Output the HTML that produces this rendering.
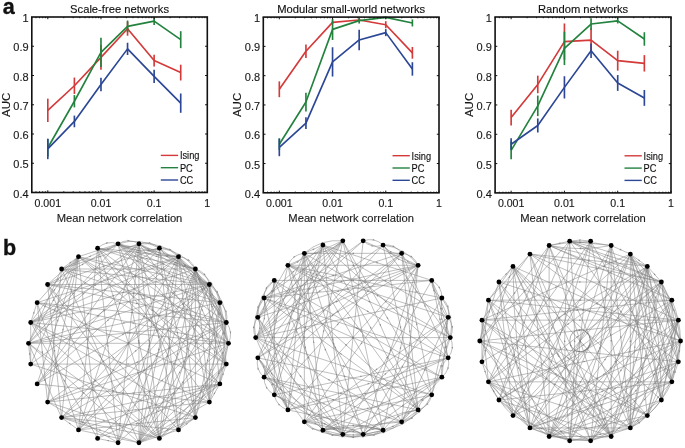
<!DOCTYPE html>
<html><head><meta charset="utf-8"><style>
html,body{margin:0;padding:0;background:#fff;width:685px;height:448px;overflow:hidden}
svg{display:block}
text{-webkit-font-smoothing:antialiased}
</style></head><body>
<svg style="will-change:transform" width="685" height="448" viewBox="0 0 685 448">
<rect width="685" height="448" fill="#fff"/>
<text x="119.55" y="13.0" font-size="11.2" text-anchor="middle" font-family="Liberation Sans, sans-serif" stroke="currentColor" stroke-width="0.12" fill="#111">Scale-free networks</text>
<polyline points="47.8,110.31 74.39,85.74 100.97,57.37 127.55,28.7 154.13,60.58 180.72,72.57" fill="none" stroke="#d43a3a" stroke-width="1.65" stroke-linejoin="round"/>
<line x1="47.8" y1="98.61" x2="47.8" y2="122.01" stroke="#d43a3a" stroke-width="1.65"/>
<line x1="74.39" y1="77.55" x2="74.39" y2="93.93" stroke="#d43a3a" stroke-width="1.65"/>
<line x1="100.97" y1="45.08" x2="100.97" y2="69.65" stroke="#d43a3a" stroke-width="1.65"/>
<line x1="127.55" y1="21.68" x2="127.55" y2="35.72" stroke="#d43a3a" stroke-width="1.65"/>
<line x1="154.13" y1="54.73" x2="154.13" y2="66.43" stroke="#d43a3a" stroke-width="1.65"/>
<line x1="180.72" y1="64.68" x2="180.72" y2="80.47" stroke="#d43a3a" stroke-width="1.65"/>
<polyline points="47.8,147.75 74.39,101.24 100.97,52.39 127.55,26.36 154.13,21.09 180.72,39.67" fill="none" stroke="#22823e" stroke-width="1.65" stroke-linejoin="round"/>
<line x1="47.8" y1="138.97" x2="47.8" y2="156.52" stroke="#22823e" stroke-width="1.65"/>
<line x1="74.39" y1="95.1" x2="74.39" y2="107.38" stroke="#22823e" stroke-width="1.65"/>
<line x1="100.97" y1="37.77" x2="100.97" y2="67.02" stroke="#22823e" stroke-width="1.65"/>
<line x1="127.55" y1="20.51" x2="127.55" y2="32.21" stroke="#22823e" stroke-width="1.65"/>
<line x1="154.13" y1="17.29" x2="154.13" y2="24.9" stroke="#22823e" stroke-width="1.65"/>
<line x1="180.72" y1="31.19" x2="180.72" y2="48.15" stroke="#22823e" stroke-width="1.65"/>
<polyline points="47.8,148.92 74.39,121.42 100.97,84.42 127.55,48.88 154.13,76.38 180.72,103.14" fill="none" stroke="#2c4795" stroke-width="1.65" stroke-linejoin="round"/>
<line x1="47.8" y1="138.68" x2="47.8" y2="159.16" stroke="#2c4795" stroke-width="1.65"/>
<line x1="74.39" y1="115.57" x2="74.39" y2="127.27" stroke="#2c4795" stroke-width="1.65"/>
<line x1="100.97" y1="77.69" x2="100.97" y2="91.15" stroke="#2c4795" stroke-width="1.65"/>
<line x1="127.55" y1="42.74" x2="127.55" y2="55.03" stroke="#2c4795" stroke-width="1.65"/>
<line x1="154.13" y1="69.65" x2="154.13" y2="83.1" stroke="#2c4795" stroke-width="1.65"/>
<line x1="180.72" y1="93.49" x2="180.72" y2="112.79" stroke="#2c4795" stroke-width="1.65"/>
<path d="M31.8,163.25h2.2M207.3,163.25h-2.2M31.8,134h2.2M207.3,134h-2.2M31.8,104.75h2.2M207.3,104.75h-2.2M31.8,75.5h2.2M207.3,75.5h-2.2M31.8,46.25h2.2M207.3,46.25h-2.2M31.8,192.5v-1.2M31.8,17v1.2M36.01,192.5v-1.2M36.01,17v1.2M39.57,192.5v-1.2M39.57,17v1.2M42.65,192.5v-1.2M42.65,17v1.2M45.37,192.5v-1.2M45.37,17v1.2M47.8,192.5v-2.2M47.8,17v2.2M63.81,192.5v-1.2M63.81,17v1.2M73.17,192.5v-1.2M73.17,17v1.2M79.81,192.5v-1.2M79.81,17v1.2M84.97,192.5v-1.2M84.97,17v1.2M89.17,192.5v-1.2M89.17,17v1.2M92.73,192.5v-1.2M92.73,17v1.2M95.82,192.5v-1.2M95.82,17v1.2M98.54,192.5v-1.2M98.54,17v1.2M100.97,192.5v-2.2M100.97,17v2.2M116.97,192.5v-1.2M116.97,17v1.2M126.34,192.5v-1.2M126.34,17v1.2M132.98,192.5v-1.2M132.98,17v1.2M138.13,192.5v-1.2M138.13,17v1.2M142.34,192.5v-1.2M142.34,17v1.2M145.9,192.5v-1.2M145.9,17v1.2M148.98,192.5v-1.2M148.98,17v1.2M151.7,192.5v-1.2M151.7,17v1.2M154.13,192.5v-2.2M154.13,17v2.2M170.14,192.5v-1.2M170.14,17v1.2M179.5,192.5v-1.2M179.5,17v1.2M186.14,192.5v-1.2M186.14,17v1.2M191.3,192.5v-1.2M191.3,17v1.2M195.51,192.5v-1.2M195.51,17v1.2M199.06,192.5v-1.2M199.06,17v1.2M202.15,192.5v-1.2M202.15,17v1.2M204.87,192.5v-1.2M204.87,17v1.2M207.3,192.5v-2.2M207.3,17v2.2" stroke="#111" stroke-width="1" fill="none"/>
<rect x="31.8" y="17" width="175.5" height="175.5" fill="none" stroke="#111" stroke-width="1.6"/>
<text x="28.6" y="197.6" font-size="11" text-anchor="end" font-family="Liberation Sans, sans-serif" stroke="currentColor" stroke-width="0.12" fill="#222">0.4</text>
<text x="28.6" y="168.35" font-size="11" text-anchor="end" font-family="Liberation Sans, sans-serif" stroke="currentColor" stroke-width="0.12" fill="#222">0.5</text>
<text x="28.6" y="139.1" font-size="11" text-anchor="end" font-family="Liberation Sans, sans-serif" stroke="currentColor" stroke-width="0.12" fill="#222">0.6</text>
<text x="28.6" y="109.85" font-size="11" text-anchor="end" font-family="Liberation Sans, sans-serif" stroke="currentColor" stroke-width="0.12" fill="#222">0.7</text>
<text x="28.6" y="80.6" font-size="11" text-anchor="end" font-family="Liberation Sans, sans-serif" stroke="currentColor" stroke-width="0.12" fill="#222">0.8</text>
<text x="28.6" y="51.35" font-size="11" text-anchor="end" font-family="Liberation Sans, sans-serif" stroke="currentColor" stroke-width="0.12" fill="#222">0.9</text>
<text x="28.6" y="22.1" font-size="11" text-anchor="end" font-family="Liberation Sans, sans-serif" stroke="currentColor" stroke-width="0.12" fill="#222">1</text>
<text x="47.8" y="206.9" font-size="10.6" text-anchor="middle" font-family="Liberation Sans, sans-serif" stroke="currentColor" stroke-width="0.12" fill="#222">0.001</text>
<text x="100.97" y="206.9" font-size="10.6" text-anchor="middle" font-family="Liberation Sans, sans-serif" stroke="currentColor" stroke-width="0.12" fill="#222">0.01</text>
<text x="154.13" y="206.9" font-size="10.6" text-anchor="middle" font-family="Liberation Sans, sans-serif" stroke="currentColor" stroke-width="0.12" fill="#222">0.1</text>
<text x="207.3" y="206.9" font-size="10.6" text-anchor="middle" font-family="Liberation Sans, sans-serif" stroke="currentColor" stroke-width="0.12" fill="#222">1</text>
<text x="119.55" y="222.0" font-size="11.2" text-anchor="middle" font-family="Liberation Sans, sans-serif" stroke="currentColor" stroke-width="0.12" fill="#222">Mean network correlation</text>
<text transform="translate(9.8,104.75) rotate(-90)" font-size="11.5" text-anchor="middle" font-family="Liberation Sans, sans-serif" stroke="currentColor" stroke-width="0.12" fill="#222">AUC</text>
<line x1="160.8" y1="155.4" x2="178.1" y2="155.4" stroke="#d43a3a" stroke-width="1.4"/>
<text transform="translate(179.9,159.3) scale(0.9,1)" font-size="10.3" font-family="Liberation Sans, sans-serif" stroke="currentColor" stroke-width="0.12" fill="#111">Ising</text>
<line x1="160.8" y1="167.7" x2="178.1" y2="167.7" stroke="#22823e" stroke-width="1.4"/>
<text transform="translate(179.9,171.6) scale(0.9,1)" font-size="10.3" font-family="Liberation Sans, sans-serif" stroke="currentColor" stroke-width="0.12" fill="#111">PC</text>
<line x1="160.8" y1="180" x2="178.1" y2="180" stroke="#2c4795" stroke-width="1.4"/>
<text transform="translate(179.9,183.9) scale(0.9,1)" font-size="10.3" font-family="Liberation Sans, sans-serif" stroke="currentColor" stroke-width="0.12" fill="#111">CC</text>
<text x="351.15" y="13.0" font-size="11.2" text-anchor="middle" font-family="Liberation Sans, sans-serif" stroke="currentColor" stroke-width="0.12" fill="#111">Modular small-world networks</text>
<polyline points="279.32,89.28 305.94,51.19 332.55,22.37 359.16,20.03 385.77,24.71 412.39,52.83" fill="none" stroke="#d43a3a" stroke-width="1.65" stroke-linejoin="round"/>
<line x1="279.32" y1="81.38" x2="279.32" y2="97.19" stroke="#d43a3a" stroke-width="1.65"/>
<line x1="305.94" y1="44.45" x2="305.94" y2="57.92" stroke="#d43a3a" stroke-width="1.65"/>
<line x1="332.55" y1="20.61" x2="332.55" y2="24.13" stroke="#d43a3a" stroke-width="1.65"/>
<line x1="359.16" y1="18.56" x2="359.16" y2="21.49" stroke="#d43a3a" stroke-width="1.65"/>
<line x1="385.77" y1="21.2" x2="385.77" y2="28.23" stroke="#d43a3a" stroke-width="1.65"/>
<line x1="412.39" y1="46.97" x2="412.39" y2="58.68" stroke="#d43a3a" stroke-width="1.65"/>
<polyline points="279.32,144.19 305.94,102.02 332.55,29.4 359.16,20.61 385.77,17.39 412.39,22.96" fill="none" stroke="#22823e" stroke-width="1.65" stroke-linejoin="round"/>
<line x1="279.32" y1="138.33" x2="279.32" y2="150.05" stroke="#22823e" stroke-width="1.65"/>
<line x1="305.94" y1="92.65" x2="305.94" y2="111.39" stroke="#22823e" stroke-width="1.65"/>
<line x1="332.55" y1="18.86" x2="332.55" y2="39.94" stroke="#22823e" stroke-width="1.65"/>
<line x1="359.16" y1="17.69" x2="359.16" y2="23.54" stroke="#22823e" stroke-width="1.65"/>
<line x1="385.77" y1="17.1" x2="385.77" y2="18.86" stroke="#22823e" stroke-width="1.65"/>
<line x1="412.39" y1="19.44" x2="412.39" y2="26.47" stroke="#22823e" stroke-width="1.65"/>
<polyline points="279.32,147.41 305.94,123.11 332.55,61.9 359.16,39.94 385.77,32.62 412.39,68.93" fill="none" stroke="#2c4795" stroke-width="1.65" stroke-linejoin="round"/>
<line x1="279.32" y1="138.63" x2="279.32" y2="156.2" stroke="#2c4795" stroke-width="1.65"/>
<line x1="305.94" y1="117.25" x2="305.94" y2="128.96" stroke="#2c4795" stroke-width="1.65"/>
<line x1="332.55" y1="47.26" x2="332.55" y2="76.55" stroke="#2c4795" stroke-width="1.65"/>
<line x1="359.16" y1="29.69" x2="359.16" y2="50.19" stroke="#2c4795" stroke-width="1.65"/>
<line x1="385.77" y1="29.11" x2="385.77" y2="36.13" stroke="#2c4795" stroke-width="1.65"/>
<line x1="412.39" y1="62.2" x2="412.39" y2="75.67" stroke="#2c4795" stroke-width="1.65"/>
<path d="M263.3,163.52h2.2M439,163.52h-2.2M263.3,134.23h2.2M439,134.23h-2.2M263.3,104.95h2.2M439,104.95h-2.2M263.3,75.67h2.2M439,75.67h-2.2M263.3,46.38h2.2M439,46.38h-2.2M263.3,192.8v-1.2M263.3,17.1v1.2M267.51,192.8v-1.2M267.51,17.1v1.2M271.08,192.8v-1.2M271.08,17.1v1.2M274.16,192.8v-1.2M274.16,17.1v1.2M276.89,192.8v-1.2M276.89,17.1v1.2M279.32,192.8v-2.2M279.32,17.1v2.2M295.35,192.8v-1.2M295.35,17.1v1.2M304.72,192.8v-1.2M304.72,17.1v1.2M311.37,192.8v-1.2M311.37,17.1v1.2M316.53,192.8v-1.2M316.53,17.1v1.2M320.74,192.8v-1.2M320.74,17.1v1.2M324.3,192.8v-1.2M324.3,17.1v1.2M327.39,192.8v-1.2M327.39,17.1v1.2M330.11,192.8v-1.2M330.11,17.1v1.2M332.55,192.8v-2.2M332.55,17.1v2.2M348.57,192.8v-1.2M348.57,17.1v1.2M357.94,192.8v-1.2M357.94,17.1v1.2M364.59,192.8v-1.2M364.59,17.1v1.2M369.75,192.8v-1.2M369.75,17.1v1.2M373.97,192.8v-1.2M373.97,17.1v1.2M377.53,192.8v-1.2M377.53,17.1v1.2M380.62,192.8v-1.2M380.62,17.1v1.2M383.34,192.8v-1.2M383.34,17.1v1.2M385.77,192.8v-2.2M385.77,17.1v2.2M401.8,192.8v-1.2M401.8,17.1v1.2M411.17,192.8v-1.2M411.17,17.1v1.2M417.82,192.8v-1.2M417.82,17.1v1.2M422.98,192.8v-1.2M422.98,17.1v1.2M427.19,192.8v-1.2M427.19,17.1v1.2M430.76,192.8v-1.2M430.76,17.1v1.2M433.84,192.8v-1.2M433.84,17.1v1.2M436.56,192.8v-1.2M436.56,17.1v1.2M439,192.8v-2.2M439,17.1v2.2" stroke="#111" stroke-width="1" fill="none"/>
<rect x="263.3" y="17.1" width="175.7" height="175.7" fill="none" stroke="#111" stroke-width="1.6"/>
<text x="260.1" y="197.9" font-size="11" text-anchor="end" font-family="Liberation Sans, sans-serif" stroke="currentColor" stroke-width="0.12" fill="#222">0.4</text>
<text x="260.1" y="168.62" font-size="11" text-anchor="end" font-family="Liberation Sans, sans-serif" stroke="currentColor" stroke-width="0.12" fill="#222">0.5</text>
<text x="260.1" y="139.33" font-size="11" text-anchor="end" font-family="Liberation Sans, sans-serif" stroke="currentColor" stroke-width="0.12" fill="#222">0.6</text>
<text x="260.1" y="110.05" font-size="11" text-anchor="end" font-family="Liberation Sans, sans-serif" stroke="currentColor" stroke-width="0.12" fill="#222">0.7</text>
<text x="260.1" y="80.77" font-size="11" text-anchor="end" font-family="Liberation Sans, sans-serif" stroke="currentColor" stroke-width="0.12" fill="#222">0.8</text>
<text x="260.1" y="51.48" font-size="11" text-anchor="end" font-family="Liberation Sans, sans-serif" stroke="currentColor" stroke-width="0.12" fill="#222">0.9</text>
<text x="260.1" y="22.2" font-size="11" text-anchor="end" font-family="Liberation Sans, sans-serif" stroke="currentColor" stroke-width="0.12" fill="#222">1</text>
<text x="279.32" y="207.2" font-size="10.6" text-anchor="middle" font-family="Liberation Sans, sans-serif" stroke="currentColor" stroke-width="0.12" fill="#222">0.001</text>
<text x="332.55" y="207.2" font-size="10.6" text-anchor="middle" font-family="Liberation Sans, sans-serif" stroke="currentColor" stroke-width="0.12" fill="#222">0.01</text>
<text x="385.77" y="207.2" font-size="10.6" text-anchor="middle" font-family="Liberation Sans, sans-serif" stroke="currentColor" stroke-width="0.12" fill="#222">0.1</text>
<text x="439" y="207.2" font-size="10.6" text-anchor="middle" font-family="Liberation Sans, sans-serif" stroke="currentColor" stroke-width="0.12" fill="#222">1</text>
<text x="351.15" y="222.0" font-size="11.2" text-anchor="middle" font-family="Liberation Sans, sans-serif" stroke="currentColor" stroke-width="0.12" fill="#222">Mean network correlation</text>
<text transform="translate(241.3,104.95) rotate(-90)" font-size="11.5" text-anchor="middle" font-family="Liberation Sans, sans-serif" stroke="currentColor" stroke-width="0.12" fill="#222">AUC</text>
<line x1="392.5" y1="155.7" x2="409.8" y2="155.7" stroke="#d43a3a" stroke-width="1.4"/>
<text transform="translate(411.6,159.6) scale(0.9,1)" font-size="10.3" font-family="Liberation Sans, sans-serif" stroke="currentColor" stroke-width="0.12" fill="#111">Ising</text>
<line x1="392.5" y1="168" x2="409.8" y2="168" stroke="#22823e" stroke-width="1.4"/>
<text transform="translate(411.6,171.9) scale(0.9,1)" font-size="10.3" font-family="Liberation Sans, sans-serif" stroke="currentColor" stroke-width="0.12" fill="#111">PC</text>
<line x1="392.5" y1="180.3" x2="409.8" y2="180.3" stroke="#2c4795" stroke-width="1.4"/>
<text transform="translate(411.6,184.2) scale(0.9,1)" font-size="10.3" font-family="Liberation Sans, sans-serif" stroke="currentColor" stroke-width="0.12" fill="#111">CC</text>
<text x="583.05" y="13.0" font-size="11.2" text-anchor="middle" font-family="Liberation Sans, sans-serif" stroke="currentColor" stroke-width="0.12" fill="#111">Random networks</text>
<polyline points="511.14,117.56 537.78,84.43 564.43,41.63 591.07,40.16 617.71,60.68 644.36,63.32" fill="none" stroke="#d43a3a" stroke-width="1.65" stroke-linejoin="round"/>
<line x1="511.14" y1="109.64" x2="511.14" y2="125.47" stroke="#d43a3a" stroke-width="1.65"/>
<line x1="537.78" y1="75.63" x2="537.78" y2="93.22" stroke="#d43a3a" stroke-width="1.65"/>
<line x1="564.43" y1="23.45" x2="564.43" y2="59.8" stroke="#d43a3a" stroke-width="1.65"/>
<line x1="591.07" y1="28.43" x2="591.07" y2="51.89" stroke="#d43a3a" stroke-width="1.65"/>
<line x1="617.71" y1="50.71" x2="617.71" y2="70.65" stroke="#d43a3a" stroke-width="1.65"/>
<line x1="644.36" y1="55.11" x2="644.36" y2="71.53" stroke="#d43a3a" stroke-width="1.65"/>
<polyline points="511.14,150.39 537.78,105.83 564.43,48.37 591.07,24.04 617.71,20.81 644.36,38.99" fill="none" stroke="#22823e" stroke-width="1.65" stroke-linejoin="round"/>
<line x1="511.14" y1="141.6" x2="511.14" y2="159.19" stroke="#22823e" stroke-width="1.65"/>
<line x1="537.78" y1="95.57" x2="537.78" y2="116.09" stroke="#22823e" stroke-width="1.65"/>
<line x1="564.43" y1="31.66" x2="564.43" y2="65.08" stroke="#22823e" stroke-width="1.65"/>
<line x1="591.07" y1="18.17" x2="591.07" y2="29.9" stroke="#22823e" stroke-width="1.65"/>
<line x1="617.71" y1="18.17" x2="617.71" y2="23.45" stroke="#22823e" stroke-width="1.65"/>
<line x1="644.36" y1="32.24" x2="644.36" y2="45.73" stroke="#22823e" stroke-width="1.65"/>
<polyline points="511.14,144.23 537.78,125.47 564.43,87.36 591.07,50.71 617.71,82.96 644.36,97.91" fill="none" stroke="#2c4795" stroke-width="1.65" stroke-linejoin="round"/>
<line x1="511.14" y1="138.37" x2="511.14" y2="150.1" stroke="#2c4795" stroke-width="1.65"/>
<line x1="537.78" y1="118.44" x2="537.78" y2="132.51" stroke="#2c4795" stroke-width="1.65"/>
<line x1="564.43" y1="76.22" x2="564.43" y2="98.5" stroke="#2c4795" stroke-width="1.65"/>
<line x1="591.07" y1="43.38" x2="591.07" y2="58.04" stroke="#2c4795" stroke-width="1.65"/>
<line x1="617.71" y1="75.05" x2="617.71" y2="90.88" stroke="#2c4795" stroke-width="1.65"/>
<line x1="644.36" y1="90" x2="644.36" y2="105.83" stroke="#2c4795" stroke-width="1.65"/>
<path d="M495.1,163.58h2.2M671,163.58h-2.2M495.1,134.27h2.2M671,134.27h-2.2M495.1,104.95h2.2M671,104.95h-2.2M495.1,75.63h2.2M671,75.63h-2.2M495.1,46.32h2.2M671,46.32h-2.2M495.1,192.9v-1.2M495.1,17v1.2M499.32,192.9v-1.2M499.32,17v1.2M502.89,192.9v-1.2M502.89,17v1.2M505.98,192.9v-1.2M505.98,17v1.2M508.7,192.9v-1.2M508.7,17v1.2M511.14,192.9v-2.2M511.14,17v2.2M527.18,192.9v-1.2M527.18,17v1.2M536.56,192.9v-1.2M536.56,17v1.2M543.22,192.9v-1.2M543.22,17v1.2M548.39,192.9v-1.2M548.39,17v1.2M552.61,192.9v-1.2M552.61,17v1.2M556.17,192.9v-1.2M556.17,17v1.2M559.26,192.9v-1.2M559.26,17v1.2M561.99,192.9v-1.2M561.99,17v1.2M564.43,192.9v-2.2M564.43,17v2.2M580.47,192.9v-1.2M580.47,17v1.2M589.85,192.9v-1.2M589.85,17v1.2M596.51,192.9v-1.2M596.51,17v1.2M601.67,192.9v-1.2M601.67,17v1.2M605.89,192.9v-1.2M605.89,17v1.2M609.46,192.9v-1.2M609.46,17v1.2M612.55,192.9v-1.2M612.55,17v1.2M615.28,192.9v-1.2M615.28,17v1.2M617.71,192.9v-2.2M617.71,17v2.2M633.75,192.9v-1.2M633.75,17v1.2M643.14,192.9v-1.2M643.14,17v1.2M649.8,192.9v-1.2M649.8,17v1.2M654.96,192.9v-1.2M654.96,17v1.2M659.18,192.9v-1.2M659.18,17v1.2M662.75,192.9v-1.2M662.75,17v1.2M665.84,192.9v-1.2M665.84,17v1.2M668.56,192.9v-1.2M668.56,17v1.2M671,192.9v-2.2M671,17v2.2" stroke="#111" stroke-width="1" fill="none"/>
<rect x="495.1" y="17" width="175.9" height="175.9" fill="none" stroke="#111" stroke-width="1.6"/>
<text x="491.9" y="198" font-size="11" text-anchor="end" font-family="Liberation Sans, sans-serif" stroke="currentColor" stroke-width="0.12" fill="#222">0.4</text>
<text x="491.9" y="168.68" font-size="11" text-anchor="end" font-family="Liberation Sans, sans-serif" stroke="currentColor" stroke-width="0.12" fill="#222">0.5</text>
<text x="491.9" y="139.37" font-size="11" text-anchor="end" font-family="Liberation Sans, sans-serif" stroke="currentColor" stroke-width="0.12" fill="#222">0.6</text>
<text x="491.9" y="110.05" font-size="11" text-anchor="end" font-family="Liberation Sans, sans-serif" stroke="currentColor" stroke-width="0.12" fill="#222">0.7</text>
<text x="491.9" y="80.73" font-size="11" text-anchor="end" font-family="Liberation Sans, sans-serif" stroke="currentColor" stroke-width="0.12" fill="#222">0.8</text>
<text x="491.9" y="51.42" font-size="11" text-anchor="end" font-family="Liberation Sans, sans-serif" stroke="currentColor" stroke-width="0.12" fill="#222">0.9</text>
<text x="491.9" y="22.1" font-size="11" text-anchor="end" font-family="Liberation Sans, sans-serif" stroke="currentColor" stroke-width="0.12" fill="#222">1</text>
<text x="511.14" y="207.3" font-size="10.6" text-anchor="middle" font-family="Liberation Sans, sans-serif" stroke="currentColor" stroke-width="0.12" fill="#222">0.001</text>
<text x="564.43" y="207.3" font-size="10.6" text-anchor="middle" font-family="Liberation Sans, sans-serif" stroke="currentColor" stroke-width="0.12" fill="#222">0.01</text>
<text x="617.71" y="207.3" font-size="10.6" text-anchor="middle" font-family="Liberation Sans, sans-serif" stroke="currentColor" stroke-width="0.12" fill="#222">0.1</text>
<text x="671" y="207.3" font-size="10.6" text-anchor="middle" font-family="Liberation Sans, sans-serif" stroke="currentColor" stroke-width="0.12" fill="#222">1</text>
<text x="583.05" y="222.0" font-size="11.2" text-anchor="middle" font-family="Liberation Sans, sans-serif" stroke="currentColor" stroke-width="0.12" fill="#222">Mean network correlation</text>
<text transform="translate(473.1,104.95) rotate(-90)" font-size="11.5" text-anchor="middle" font-family="Liberation Sans, sans-serif" stroke="currentColor" stroke-width="0.12" fill="#222">AUC</text>
<line x1="624.5" y1="155.8" x2="641.8" y2="155.8" stroke="#d43a3a" stroke-width="1.4"/>
<text transform="translate(643.6,159.7) scale(0.9,1)" font-size="10.3" font-family="Liberation Sans, sans-serif" stroke="currentColor" stroke-width="0.12" fill="#111">Ising</text>
<line x1="624.5" y1="168.1" x2="641.8" y2="168.1" stroke="#22823e" stroke-width="1.4"/>
<text transform="translate(643.6,172) scale(0.9,1)" font-size="10.3" font-family="Liberation Sans, sans-serif" stroke="currentColor" stroke-width="0.12" fill="#111">PC</text>
<line x1="624.5" y1="180.4" x2="641.8" y2="180.4" stroke="#2c4795" stroke-width="1.4"/>
<text transform="translate(643.6,184.3) scale(0.9,1)" font-size="10.3" font-family="Liberation Sans, sans-serif" stroke="currentColor" stroke-width="0.12" fill="#111">CC</text>
<text x="2.8" y="14.2" font-size="21.5" font-weight="bold" font-family="Liberation Sans, sans-serif" stroke="#111" stroke-width="0.35" fill="#111">a</text>
<text x="3.0" y="254.9" font-size="21.5" font-weight="bold" font-family="Liberation Sans, sans-serif" stroke="#111" stroke-width="0.35" fill="#111">b</text>
<path d="M209.4,284.52L47.6,402.08M97.6,248.19L159.4,438.41M37.15,302.63L219.85,383.97M228.5,343.3Q233.64,332.25 226.31,322.51M228.5,343.3Q221.17,333.56 226.31,322.51M226.31,322.51Q229.05,310.63 219.85,302.63M226.31,322.51Q217.12,314.51 219.85,302.63M219.85,302.63Q220.06,290.44 209.4,284.52M219.85,302.63Q209.2,296.71 209.4,284.52M209.4,284.52Q207.07,272.56 195.41,268.99M209.4,284.52Q197.75,280.95 195.41,268.99M195.41,268.99Q190.64,257.77 178.5,256.7M195.41,268.99Q183.27,267.92 178.5,256.7M178.5,256.7Q171.5,246.72 159.4,248.19M178.5,256.7Q166.4,258.18 159.4,248.19M159.4,248.19Q150.48,239.89 138.95,243.85M159.4,248.19Q147.87,252.16 138.95,243.85M138.95,243.85Q128.5,237.58 118.05,243.85M138.95,243.85Q128.5,250.12 118.05,243.85M118.05,243.85Q106.52,239.89 97.6,248.19M118.05,243.85Q109.13,252.16 97.6,248.19M226.31,322.51Q226.22,299.79 209.4,284.52M226.31,322.51Q209.5,307.24 209.4,284.52M219.85,302.63Q215.03,280.43 195.41,268.99M219.85,302.63Q200.23,291.18 195.41,268.99M195.41,268.99Q181.98,250.67 159.4,248.19M195.41,268.99Q172.83,266.51 159.4,248.19M178.5,256.7Q161.55,241.57 138.95,243.85M178.5,256.7Q155.9,258.97 138.95,243.85M159.4,248.19Q139.68,236.92 118.05,243.85M159.4,248.19Q137.77,255.12 118.05,243.85M209.4,284.52L78.5,256.7M28.5,343.3L138.95,442.75M219.85,302.63L178.5,256.7M226.31,322.51L138.95,442.75M47.6,402.08L228.5,343.3M226.31,364.09L219.85,383.97M30.69,364.09L30.69,322.51M209.4,284.52L228.5,343.3M61.59,268.99L226.31,322.51M228.5,343.3L97.6,248.19M118.05,243.85L159.4,438.41M78.5,256.7L28.5,343.3M78.5,256.7L30.69,364.09M118.05,243.85L178.5,256.7M159.4,438.41L61.59,417.61M178.5,256.7L226.31,322.51M118.05,442.75L138.95,243.85M159.4,438.41L138.95,243.85M219.85,383.97L159.4,438.41M209.4,402.08L97.6,248.19M226.31,364.09L138.95,243.85M226.31,322.51L28.5,343.3M118.05,442.75L195.41,268.99M219.85,383.97L97.6,438.41M138.95,442.75L209.4,284.52M47.6,284.52L118.05,243.85M209.4,284.52L78.5,429.9M219.85,302.63L28.5,343.3M219.85,302.63L118.05,243.85M226.31,364.09L138.95,442.75M178.5,256.7L195.41,417.61M209.4,284.52L138.95,243.85M159.4,438.41L28.5,343.3M219.85,302.63L226.31,364.09M118.05,442.75L178.5,256.7M226.31,322.51L37.15,302.63M195.41,268.99L30.69,322.51M219.85,383.97L97.6,248.19M47.6,284.52L178.5,429.9M209.4,402.08L138.95,442.75M78.5,429.9L219.85,383.97M209.4,284.52L219.85,383.97M195.41,417.61L30.69,322.51M228.5,343.3L219.85,383.97M195.41,268.99L61.59,417.61M195.41,268.99L138.95,442.75M37.15,302.63L178.5,256.7M209.4,284.52L61.59,417.61M226.31,322.51L195.41,268.99M47.6,284.52L159.4,438.41M30.69,322.51L178.5,256.7M209.4,402.08L209.4,284.52M228.5,343.3L195.41,268.99M118.05,243.85L226.31,322.51M209.4,284.52L159.4,248.19M47.6,284.52L219.85,302.63M159.4,248.19L195.41,417.61M226.31,364.09L30.69,364.09M47.6,402.08L37.15,302.63M219.85,302.63L228.5,343.3M228.5,343.3L209.4,402.08M47.6,402.08L219.85,383.97M228.5,343.3L28.5,343.3M97.6,248.19L78.5,429.9M178.5,256.7L226.31,364.09M226.31,322.51L47.6,284.52M78.5,429.9L195.41,417.61M78.5,429.9L61.59,417.61M159.4,248.19L37.15,383.97M195.41,417.61L178.5,429.9M138.95,243.85L138.95,442.75M30.69,322.51L138.95,243.85M37.15,302.63L30.69,322.51M226.31,364.09L178.5,429.9M78.5,429.9L138.95,243.85M78.5,429.9L37.15,302.63M226.31,322.51L97.6,438.41M228.5,343.3L30.69,322.51M97.6,248.19L195.41,268.99M47.6,402.08L78.5,256.7M30.69,322.51L209.4,402.08M178.5,256.7L37.15,383.97M195.41,417.61L30.69,364.09M118.05,243.85L195.41,417.61M178.5,256.7L30.69,364.09M209.4,284.52L118.05,243.85M178.5,429.9L138.95,243.85M219.85,302.63L78.5,256.7M61.59,417.61L219.85,383.97M178.5,256.7L209.4,284.52M118.05,243.85L195.41,268.99M195.41,268.99L138.95,243.85M30.69,322.51L78.5,256.7M178.5,256.7L159.4,438.41M226.31,364.09L118.05,243.85M178.5,429.9L228.5,343.3M61.59,417.61L47.6,284.52M178.5,256.7L138.95,442.75M118.05,243.85L228.5,343.3M159.4,438.41L195.41,268.99M28.5,343.3L118.05,243.85M28.5,343.3L30.69,364.09M138.95,442.75L219.85,383.97M37.15,383.97L209.4,284.52M97.6,248.19L209.4,284.52M47.6,402.08L61.59,268.99M30.69,322.51L97.6,438.41M195.41,417.61L226.31,322.51M209.4,402.08L61.59,417.61M159.4,248.19L47.6,284.52M178.5,429.9L138.95,442.75M28.5,343.3L209.4,284.52M61.59,417.61L138.95,442.75M28.5,343.3L61.59,417.61M195.41,268.99L195.41,417.61M61.59,268.99L138.95,442.75M178.5,256.7L209.4,402.08M178.5,429.9L159.4,248.19M47.6,284.52L118.05,442.75M159.4,248.19L138.95,442.75M78.5,256.7L61.59,417.61M159.4,438.41L47.6,402.08M219.85,383.97L78.5,256.7M219.85,383.97L226.31,322.51M195.41,268.99L61.59,268.99M178.5,256.7L78.5,429.9M28.5,343.3L61.59,268.99M159.4,438.41L195.41,417.61M209.4,284.52L159.4,438.41M226.31,364.09L61.59,268.99M47.6,284.52L209.4,284.52M61.59,268.99L78.5,256.7M226.31,364.09L78.5,256.7M47.6,284.52L78.5,256.7M47.6,402.08L226.31,322.51M61.59,268.99L138.95,243.85M219.85,383.97L209.4,402.08M138.95,442.75L195.41,417.61M97.6,248.19L178.5,256.7M209.4,284.52L30.69,322.51M209.4,402.08L219.85,302.63M118.05,442.75L228.5,343.3M159.4,248.19L30.69,322.51M219.85,302.63L78.5,429.9M61.59,268.99L118.05,243.85M61.59,268.99L209.4,284.52M159.4,438.41L30.69,322.51M178.5,429.9L195.41,268.99M78.5,429.9L138.95,442.75M195.41,268.99L226.31,364.09M195.41,417.61L219.85,302.63M138.95,442.75L219.85,302.63M138.95,243.85L37.15,383.97M37.15,383.97L209.4,402.08M78.5,256.7L97.6,438.41M78.5,256.7L37.15,383.97M159.4,438.41L226.31,364.09M97.6,248.19L118.05,442.75M78.5,256.7L118.05,243.85M37.15,302.63L228.5,343.3M78.5,256.7L228.5,343.3M61.59,417.61L178.5,429.9M28.5,343.3L138.95,243.85M37.15,302.63L78.5,256.7M195.41,268.99L209.4,402.08M97.6,438.41L118.05,442.75M47.6,402.08L118.05,442.75M61.59,417.61L226.31,322.51" stroke="#7e7e7e" stroke-opacity="0.85" stroke-width="0.6" fill="none"/>
<path d="M129.55,342.54L128.19,344.58L127.19,343.2ZM128.1,342.06L129.62,343.99L128,344.51ZM127.31,342.77L129.76,342.93L129.07,344.48ZM230.66,333.87L229.58,331.67L231.27,331.49ZM224.42,334.53L223.34,332.33L225.03,332.15ZM226.47,312.83L224.95,310.91L226.57,310.38ZM220.5,314.77L218.98,312.85L220.6,312.32ZM217.99,293.13L216.11,291.56L217.58,290.71ZM212.56,296.27L210.68,294.7L212.15,293.85ZM205.61,275.62L203.44,274.48L204.7,273.34ZM200.95,279.82L198.78,278.68L200.04,277.54ZM189.85,261.07L187.49,260.4L188.49,259.03ZM186.17,266.14L183.8,265.48L184.8,264.1ZM171.41,250.11L168.97,249.95L169.66,248.4ZM168.86,255.84L166.42,255.68L167.11,254.13ZM151.1,243.22L148.67,243.58L149.03,241.91ZM149.8,249.36L147.37,249.71L147.72,248.05ZM129.8,240.71L127.5,241.56L127.5,239.86ZM129.8,246.98L127.5,247.83L127.5,246.13ZM108.44,242.68L106.37,243.99L106.02,242.33ZM109.75,248.82L107.67,250.13L107.32,248.46ZM221.51,300.47L223.22,302.22L221.67,302.91ZM213.15,304.19L214.86,305.94L213.31,306.63ZM210.57,282.07L212.61,283.43L211.23,284.43ZM203.17,287.44L205.21,288.8L203.83,289.8ZM178.57,253.98L180.99,254.39L180.14,255.86ZM173.99,261.9L176.41,262.32L175.56,263.79ZM158.9,245.52L161.35,245.42L160.83,247.04ZM156.08,254.22L158.53,254.12L158,255.74ZM137.91,241.34L140.29,240.73L140.11,242.42ZM136.95,250.43L139.33,249.83L139.15,251.52ZM145.22,270.88L142.8,271.23L143.15,269.57ZM84.69,393.9L82.41,392.99L83.55,391.73ZM200.05,280.63L197.88,279.49L199.14,278.35ZM181.87,383.68L182.53,381.32L183.91,382.32ZM139.29,372.29L137.36,373.81L136.84,372.19ZM223.49,372.8L223.58,375.25L221.97,374.72ZM30.69,342L31.54,344.3L29.84,344.3ZM218.55,312.67L220.07,314.6L218.45,315.12ZM145.19,296.15L142.74,296.25L143.26,294.63ZM164.1,296.51L161.74,295.85L162.74,294.47ZM138.99,342.4L137.69,340.33L139.35,339.97ZM54.15,298.87L53.74,301.29L52.26,300.44ZM54.06,311.58L54.22,309.14L55.78,309.83ZM147,250L149.43,249.65L149.07,251.31ZM111.77,428.28L109.34,428.63L109.69,426.97ZM203.17,290.65L201.13,289.29L202.51,288.29ZM128.36,344.59L127.76,342.22L129.45,342.39ZM149.31,342.42L148.23,340.22L149.92,340.04ZM188.66,412.06L189.8,409.89L190.94,411.15ZM152.74,324.08L154.78,325.45L153.4,326.45ZM181.87,302.92L183.91,304.28L182.53,305.28ZM126.11,333.04L128.31,331.95L128.49,333.65ZM157.26,354.68L157.1,357.13L155.55,356.44ZM159.91,410.66L158.16,412.37L157.47,410.82ZM174.71,362.45L174.55,364.9L172.99,364.2ZM83.95,263.53L82.38,265.42L81.53,263.95ZM144.82,356.25L143.91,358.52L142.65,357.39ZM125.45,322.69L123.38,324L123.02,322.34ZM167.83,272.59L170.24,273L169.39,274.47ZM181.67,404.29L182.81,402.12L183.95,403.38ZM186.82,335.86L187.91,338.06L186.22,338.24ZM173.05,263.53L175.47,263.95L174.62,265.42ZM95,391.62L92.64,390.95L93.64,389.58ZM222.95,332.07L224.03,334.26L222.34,334.44ZM147.87,350.96L147.77,348.51L149.39,349.04ZM130.44,312.43L132.81,311.83L132.64,313.52ZM111.81,296.15L113.74,294.63L114.26,296.25ZM159.6,317.05L157.43,315.91L158.69,314.77ZM112.18,356.25L114.35,357.39L113.09,358.52ZM173.05,423.07L174.62,421.18L175.47,422.65ZM150.41,406.54L148.49,408.06L147.96,406.44ZM214.49,332.95L215.58,335.15L213.89,335.33ZM111.92,369.41L114.34,369.83L113.49,371.3ZM223.91,364.91L223.55,362.48L225.22,362.84ZM129.37,342.33L128.46,344.61L127.2,343.47ZM167.58,354.63L167.68,357.08L166.07,356.56ZM109.06,279.26L107.13,280.78L106.61,279.16ZM134.53,351.94L135.67,349.77L136.81,351.03ZM211.51,296.87L209.63,295.31L211.1,294.46ZM104.26,362.52L102.22,361.15L103.6,360.15ZM103.41,290.13L105.16,288.42L105.85,289.97ZM209.4,342L210.25,344.3L208.55,344.3ZM211.43,304.96L213.14,306.71L211.59,307.4ZM171.13,282.41L173.49,283.08L172.49,284.45ZM185.45,267.12L183.09,266.46L184.09,265.08ZM135.02,293.71L132.64,294.31L132.82,292.62ZM177.68,334.18L176.37,332.1L178.03,331.75ZM129.8,364.09L127.5,364.94L127.5,363.24ZM42.51,353.65L41.42,351.45L43.11,351.27ZM224.45,324.23L223.14,322.16L224.8,321.81ZM219.35,371.45L219.45,373.9L217.83,373.38ZM135.02,392.89L132.82,393.98L132.64,392.29ZM129.8,343.3L127.5,344.15L127.5,342.45ZM88.19,337.76L88.79,340.13L87.1,339.95ZM202.94,311.58L201.22,309.83L202.78,309.14ZM138.23,303.79L135.8,304.14L136.16,302.48ZM138.25,423.62L136.05,424.71L135.87,423.02ZM71.1,424.52L68.73,423.86L69.73,422.48ZM99.14,315.12L98.24,317.4L96.97,316.26ZM188.01,422.99L186.65,425.03L185.65,423.66ZM138.95,344.6L138.1,342.3L139.8,342.3ZM83.77,283.94L85.13,281.9L86.13,283.28ZM34.32,311.33L34.41,313.78L32.8,313.26ZM201.64,398.05L202.31,395.69L203.68,396.69ZM108.32,338.11L108.23,335.66L109.84,336.19ZM58.22,367.5L56.71,365.58L58.32,365.05ZM160.99,381.33L162.13,379.16L163.27,380.42ZM128.3,332.77L130.68,332.16L130.5,333.85ZM145.23,258.32L147.66,257.97L147.31,259.63ZM63.32,328.12L63.67,330.54L62.01,330.19ZM118.86,361.76L121.3,361.92L120.61,363.48ZM106.86,321.21L108,319.03L109.13,320.3ZM111.81,390.45L114.26,390.35L113.74,391.97ZM157.26,331.92L155.55,330.16L157.1,329.47ZM105.64,309.63L104.28,311.67L103.28,310.29ZM164.91,264.71L162.47,264.55L163.16,263ZM158.46,335.6L159.77,337.68L158.1,338.03ZM147.94,279.26L150.39,279.16L149.87,280.78ZM139.45,401.06L141.52,399.75L141.88,401.42ZM194.92,271.48L192.64,270.57L193.78,269.31ZM157.97,256.82L155.52,256.92L156.04,255.3ZM168.37,256.95L165.92,256.79L166.62,255.23ZM55.36,288.55L54.69,290.91L53.32,289.91ZM169.09,346.26L169.69,348.63L168,348.46ZM173.05,304.94L170.88,303.8L172.14,302.66ZM202.85,387.73L203.26,385.31L204.74,386.16ZM54.73,352.36L53.64,350.16L55.33,349.98ZM158.46,351L158.1,348.57L159.77,348.92ZM174.24,294.44L171.96,293.54L173.1,292.27ZM177.68,352.42L178.03,354.85L176.37,354.5ZM72.4,294.54L73.31,292.26L74.57,293.4ZM29.46,352.4L30.54,354.6L28.85,354.78ZM178.35,414.13L179.71,412.09L180.71,413.46ZM124.4,333.6L122.83,335.48L121.98,334.01ZM154.74,266.76L152.29,266.86L152.81,265.24ZM54.46,336.82L53.85,334.45L55.54,334.63ZM63.49,379.33L65.38,380.9L63.91,381.75ZM210.46,371.3L210.36,368.85L211.98,369.37ZM134.2,409.98L136.4,408.9L136.58,410.59ZM102.26,266.76L104.19,265.24L104.71,266.86ZM157.49,436.73L159.41,435.21L159.94,436.83ZM120.19,313.51L118.26,315.03L117.74,313.41ZM101.51,430.59L99.06,430.68L99.58,429.07ZM45.57,381.64L43.86,379.89L45.41,379.2ZM195.41,344.6L194.56,342.3L196.26,342.3ZM100.8,357.06L99.09,355.3L100.64,354.61ZM194.22,330.66L192.91,328.59L194.57,328.23ZM169.09,340.34L168,338.14L169.69,337.97ZM83.35,364.82L81.64,363.07L83.19,362.38ZM149.31,344.18L149.92,346.56L148.23,346.38ZM70.18,335.86L70.78,338.24L69.09,338.06ZM102.26,419.84L104.71,419.74L104.19,421.36ZM148.21,319.47L150.49,320.37L149.35,321.64ZM222.95,354.53L222.34,352.16L224.03,352.34ZM129.8,268.99L127.5,269.84L127.5,268.14ZM129.15,342.17L128.74,344.59L127.26,343.74ZM45.57,304.96L45.41,307.4L43.86,306.71ZM178.53,427.36L176.97,429.25L176.12,427.77ZM184.8,360.23L184.9,362.68L183.28,362.15ZM142.83,315.89L145.24,316.3L144.39,317.77ZM127.2,284.52L129.5,283.67L129.5,285.37ZM68.99,263.61L70.35,261.57L71.35,262.94ZM153.46,311.16L151.1,310.49L152.1,309.12ZM64.02,269.74L62.87,271.91L61.74,270.65ZM135.77,362.82L137.52,361.11L138.22,362.66ZM101.51,256.01L99.58,257.53L99.06,255.92ZM215.28,391.9L214.86,394.32L213.39,393.47ZM166,430.71L167.75,429L168.44,430.55ZM139.34,252.58L136.97,253.19L137.14,251.5ZM121.32,303.24L119.24,304.55L118.89,302.89ZM214.49,353.65L213.89,351.27L215.58,351.45ZM174.24,392.16L173.1,394.33L171.96,393.06ZM93.92,286L95.48,284.12L96.33,285.59ZM148.21,367.13L149.35,364.96L150.49,366.23ZM88.63,256.95L90.38,255.23L91.08,256.79ZM136.79,276.89L134.41,277.49L134.59,275.8ZM94.08,379.59L96.36,380.49L95.22,381.76ZM186.82,350.74L186.22,348.36L187.91,348.54ZM107.45,436.06L109.88,435.7L109.53,437.37ZM210.46,315.3L211.98,317.23L210.36,317.75ZM207.9,358.85L208.26,361.28L206.59,360.92ZM178.75,373.82L179.17,371.4L180.64,372.25ZM87.29,314.96L87.95,312.6L89.32,313.6ZM124.57,393.16L122.19,393.77L122.37,392.08ZM87.91,346.26L89,348.46L87.31,348.63ZM58.22,319.1L58.32,321.55L56.71,321.02ZM191.99,402.21L192.9,399.94L194.16,401.07ZM107.69,344.18L108.77,346.38L107.08,346.56ZM99.51,249.87L97.59,251.39L97.06,249.77ZM131.55,322.69L133.98,322.34L133.62,324ZM154.63,300.65L152.21,300.23L153.06,298.76ZM121.34,423.89L118.96,424.5L119.14,422.81ZM84.69,292.7L83.55,294.87L82.41,293.61ZM56.95,280.63L57.86,278.35L59.12,279.49ZM202.27,334.24L203.36,336.44L201.67,336.62ZM106.55,440.31L108.98,439.96L108.62,441.62ZM83.95,423.07L81.53,422.65L82.38,421.18ZM145.08,369.41L143.51,371.3L142.66,369.83Z" fill="#7e7e7e" fill-opacity="0.8"/>
<circle cx="228.5" cy="343.3" r="2.4" fill="#000"/>
<circle cx="226.31" cy="322.51" r="2.4" fill="#000"/>
<circle cx="219.85" cy="302.63" r="2.4" fill="#000"/>
<circle cx="209.4" cy="284.52" r="2.4" fill="#000"/>
<circle cx="195.41" cy="268.99" r="2.4" fill="#000"/>
<circle cx="178.5" cy="256.7" r="2.4" fill="#000"/>
<circle cx="159.4" cy="248.19" r="2.4" fill="#000"/>
<circle cx="138.95" cy="243.85" r="2.4" fill="#000"/>
<circle cx="118.05" cy="243.85" r="2.4" fill="#000"/>
<circle cx="97.6" cy="248.19" r="2.4" fill="#000"/>
<circle cx="78.5" cy="256.7" r="2.4" fill="#000"/>
<circle cx="61.59" cy="268.99" r="2.4" fill="#000"/>
<circle cx="47.6" cy="284.52" r="2.4" fill="#000"/>
<circle cx="37.15" cy="302.63" r="2.4" fill="#000"/>
<circle cx="30.69" cy="322.51" r="2.4" fill="#000"/>
<circle cx="28.5" cy="343.3" r="2.4" fill="#000"/>
<circle cx="30.69" cy="364.09" r="2.4" fill="#000"/>
<circle cx="37.15" cy="383.97" r="2.4" fill="#000"/>
<circle cx="47.6" cy="402.08" r="2.4" fill="#000"/>
<circle cx="61.59" cy="417.61" r="2.4" fill="#000"/>
<circle cx="78.5" cy="429.9" r="2.4" fill="#000"/>
<circle cx="97.6" cy="438.41" r="2.4" fill="#000"/>
<circle cx="118.05" cy="442.75" r="2.4" fill="#000"/>
<circle cx="138.95" cy="442.75" r="2.4" fill="#000"/>
<circle cx="159.4" cy="438.41" r="2.4" fill="#000"/>
<circle cx="178.5" cy="429.9" r="2.4" fill="#000"/>
<circle cx="195.41" cy="417.61" r="2.4" fill="#000"/>
<circle cx="209.4" cy="402.08" r="2.4" fill="#000"/>
<circle cx="219.85" cy="383.97" r="2.4" fill="#000"/>
<circle cx="226.31" cy="364.09" r="2.4" fill="#000"/>
<path d="M441.89,377.18Q450.83,369.39 448.17,357.83M441.89,377.18Q439.23,365.62 448.17,357.83M448.17,357.83Q455.31,348.35 450.3,337.6M448.17,357.83Q443.17,347.08 450.3,337.6M450.3,337.6Q455.31,326.85 448.17,317.37M450.3,337.6Q443.17,328.12 448.17,317.37M450.3,337.6Q454.8,315.96 441.89,298.02M450.3,337.6Q437.39,319.66 441.89,298.02M448.17,317.37Q450.83,305.81 441.89,298.02M448.17,317.37Q439.23,309.58 441.89,298.02M448.17,317.37L431.72,280.41M441.89,298.02Q442.09,286.17 431.72,280.41M441.89,298.02Q431.52,292.27 431.72,280.41M418.11,265.29Q413.47,254.38 401.65,253.34M418.11,265.29Q406.29,264.25 401.65,253.34M418.11,265.29Q405.04,247.47 383.07,245.06M418.11,265.29Q396.14,262.89 383.07,245.06M418.11,265.29L363.17,240.83M401.65,253.34Q394.84,243.62 383.07,245.06M401.65,253.34Q389.88,254.77 383.07,245.06M383.07,245.06Q374.39,236.98 363.17,240.83M383.07,245.06Q371.85,248.92 363.17,240.83M342.83,240.83Q320.84,238.62 304.35,253.34M342.83,240.83Q326.34,255.55 304.35,253.34M342.83,240.83L287.89,265.29M322.93,245.06L304.35,253.34M304.35,253.34Q292.53,254.38 287.89,265.29M304.35,253.34Q299.71,264.25 287.89,265.29M274.28,280.41Q263.91,286.17 264.11,298.02M274.28,280.41Q274.48,292.27 264.11,298.02M274.28,280.41Q257.92,295.27 257.83,317.37M274.28,280.41Q274.19,302.51 257.83,317.37M264.11,298.02Q255.17,305.81 257.83,317.37M264.11,298.02Q266.77,309.58 257.83,317.37M264.11,298.02Q251.2,315.96 255.7,337.6M264.11,298.02Q268.61,319.66 255.7,337.6M257.83,317.37Q250.69,326.85 255.7,337.6M257.83,317.37Q262.83,328.12 255.7,337.6M257.83,357.83Q255.17,369.39 264.11,377.18M257.83,357.83Q266.77,365.62 264.11,377.18M257.83,357.83L287.89,409.91M264.11,377.18Q263.91,389.03 274.28,394.79M264.11,377.18Q274.48,382.93 274.28,394.79M274.28,394.79Q276.55,406.43 287.89,409.91M274.28,394.79Q285.62,398.27 287.89,409.91M304.35,421.86Q311.16,431.58 322.93,430.14M304.35,421.86Q316.12,420.43 322.93,430.14M304.35,421.86Q320.84,436.58 342.83,434.37M304.35,421.86Q326.34,419.65 342.83,434.37M304.35,421.86L363.17,434.37M322.93,430.14Q331.61,438.22 342.83,434.37M322.93,430.14Q334.15,426.28 342.83,434.37M322.93,430.14Q342.12,441.1 363.17,434.37M322.93,430.14Q343.98,423.4 363.17,434.37M322.93,430.14Q353,439.76 383.07,430.14M322.93,430.14Q353,420.52 383.07,430.14M342.83,434.37Q353,440.47 363.17,434.37M342.83,434.37Q353,428.26 363.17,434.37M342.83,434.37Q363.88,441.1 383.07,430.14M342.83,434.37Q362.02,423.4 383.07,430.14M363.17,434.37Q374.39,438.22 383.07,430.14M363.17,434.37Q371.85,426.28 383.07,430.14M363.17,434.37Q385.16,436.58 401.65,421.86M363.17,434.37Q379.66,419.65 401.65,421.86M363.17,434.37Q394.55,430.93 418.11,409.91M363.17,434.37Q386.73,413.35 418.11,409.91M383.07,430.14Q405.04,427.73 418.11,409.91M383.07,430.14Q396.14,412.31 418.11,409.91M401.65,421.86Q413.47,420.82 418.11,409.91M401.65,421.86Q406.29,410.95 418.11,409.91M401.65,421.86Q422.64,414.94 431.72,394.79M401.65,421.86Q410.73,401.71 431.72,394.79M418.11,409.91Q429.45,406.43 431.72,394.79M418.11,409.91Q420.38,398.27 431.72,394.79M450.3,337.6L255.7,337.6M418.11,265.29L287.89,409.91M363.17,240.83L342.83,434.37M304.35,253.34L401.65,421.86M264.11,298.02L441.89,377.18M264.11,298.02L418.11,265.29M304.35,421.86L448.17,317.37M401.65,421.86L255.7,337.6M304.35,253.34L418.11,409.91M363.17,434.37L274.28,394.79M418.11,265.29L304.35,421.86M441.89,377.18L401.65,421.86M264.11,298.02L431.72,280.41M401.65,253.34L264.11,298.02M287.89,265.29L418.11,265.29M448.17,317.37L431.72,394.79M264.11,298.02L322.93,245.06M418.11,265.29L257.83,317.37M448.17,357.83L287.89,409.91M431.72,394.79L401.65,253.34M255.7,337.6L342.83,434.37M363.17,434.37L304.35,253.34M255.7,337.6L342.83,240.83M322.93,245.06L255.7,337.6M274.28,280.41L441.89,377.18M274.28,280.41L418.11,409.91M264.11,377.18L401.65,253.34M304.35,421.86L448.17,357.83M255.7,337.6L431.72,394.79M304.35,253.34L401.65,253.34M441.89,298.02L255.7,337.6M342.83,240.83L257.83,357.83M401.65,421.86L264.11,377.18M431.72,394.79L257.83,357.83M287.89,265.29L441.89,298.02M383.07,430.14L287.89,265.29M342.83,434.37L274.28,394.79M322.93,430.14L448.17,317.37M287.89,265.29L264.11,377.18M342.83,240.83L418.11,409.91M342.83,434.37L322.93,245.06M304.35,253.34L304.35,421.86M401.65,253.34L274.28,394.79M431.72,394.79L450.3,337.6M383.07,430.14L342.83,240.83M304.35,253.34L322.93,430.14M342.83,240.83L257.83,317.37M322.93,245.06L418.11,409.91M257.83,357.83L304.35,421.86M322.93,430.14L401.65,421.86M342.83,240.83L304.35,421.86M287.89,265.29L363.17,434.37M418.11,409.91L264.11,298.02M287.89,265.29L448.17,357.83M418.11,409.91L401.65,253.34M342.83,434.37L257.83,317.37M257.83,357.83L418.11,265.29M257.83,357.83L401.65,253.34M383.07,245.06L418.11,409.91M441.89,298.02L363.17,434.37M287.89,409.91L383.07,430.14M448.17,357.83L274.28,394.79M257.83,357.83L322.93,430.14M448.17,357.83L264.11,298.02M322.93,245.06L287.89,409.91M264.11,377.18L383.07,430.14M431.72,394.79L304.35,421.86M450.3,337.6L383.07,245.06M257.83,317.37L287.89,409.91M448.17,317.37L441.89,377.18M255.7,337.6L383.07,245.06M342.83,434.37L441.89,377.18M287.89,265.29L450.3,337.6M342.83,240.83L431.72,394.79M431.72,280.41L342.83,434.37M418.11,409.91L264.11,377.18M287.89,265.29L448.17,317.37M322.93,245.06L431.72,280.41M322.93,245.06L264.11,377.18M257.83,357.83L304.35,253.34M274.28,394.79L322.93,245.06M274.28,280.41L274.28,394.79M322.93,430.14L450.3,337.6M274.28,280.41L431.72,280.41M304.35,253.34L274.28,394.79M363.17,240.83L255.7,337.6M342.83,434.37L274.28,280.41M448.17,357.83L401.65,253.34M342.83,240.83L264.11,298.02M450.3,337.6L304.35,253.34M448.17,357.83L322.93,245.06M418.11,265.29L255.7,337.6M450.3,337.6L431.72,280.41M257.83,317.37L363.17,240.83M322.93,245.06L448.17,317.37M401.65,421.86L418.11,265.29M401.65,421.86L448.17,317.37M418.11,265.29L363.17,434.37M255.7,337.6L287.89,409.91M287.89,409.91L441.89,377.18M363.17,434.37L441.89,377.18M383.07,430.14L418.11,265.29M264.11,377.18L342.83,434.37M304.35,253.34L287.89,409.91M257.83,317.37L287.89,265.29M287.89,265.29L322.93,430.14M342.83,240.83L264.11,377.18M257.83,317.37L322.93,430.14M448.17,357.83L431.72,280.41M441.89,377.18L322.93,430.14M264.11,377.18L383.07,245.06M264.11,298.02L287.89,409.91" stroke="#7e7e7e" stroke-opacity="0.85" stroke-width="0.6" fill="none"/>
<path d="M447.53,369.68L447.43,367.23L449.05,367.76ZM441.73,367.8L441.63,365.35L443.25,365.87ZM452.14,349.33L451.53,346.95L453.22,347.13ZM446.07,348.69L445.46,346.31L447.15,346.49ZM452.41,328.46L451.32,326.26L453.01,326.08ZM446.34,329.1L445.25,326.9L446.94,326.72ZM450.18,315.62L451.49,317.69L449.82,318.04ZM441.47,317.47L442.78,319.54L441.12,319.89ZM448.33,307.99L446.82,306.07L448.43,305.54ZM442.53,309.88L441.01,307.95L442.63,307.43ZM439.42,297.7L441.13,299.46L439.58,300.15ZM440.1,288.82L438.21,287.25L439.68,286.4ZM434.81,291.87L432.92,290.3L434.4,289.45ZM412.72,257.61L410.36,256.95L411.36,255.57ZM409.14,262.55L406.78,261.88L407.78,260.51ZM401.69,250.67L404.1,251.09L403.25,252.56ZM397.24,258.38L399.65,258.8L398.8,260.27ZM391.83,253.59L389.38,253.43L390.07,251.88ZM394.79,246.94L392.34,246.78L393.03,245.23ZM392.31,252.52L389.86,252.36L390.55,250.8ZM375.02,240.23L372.6,240.59L372.95,238.92ZM373.76,246.2L371.33,246.56L371.68,244.89ZM320.98,243.25L322.9,241.73L323.43,243.35ZM323.73,251.72L325.65,250.2L326.18,251.82ZM316.55,252.53L314.79,254.25L314.1,252.69ZM314.83,248.67L313.07,250.38L312.38,248.83ZM295.38,256.08L294.02,258.12L293.02,256.75ZM298.97,261.02L297.61,263.06L296.61,261.68ZM267.2,286.57L266.79,288.98L265.32,288.13ZM272.49,289.62L272.08,292.03L270.6,291.18ZM261.46,298.27L261.62,295.82L263.17,296.51ZM269.59,301.89L269.75,299.44L271.3,300.13ZM258.47,305.52L258.57,307.97L256.95,307.44ZM264.27,307.4L264.37,309.85L262.75,309.33ZM255.28,318.16L254.93,315.73L256.59,316.09ZM263.99,320.01L263.64,317.58L265.3,317.94ZM253.86,325.87L254.47,328.25L252.78,328.07ZM259.93,326.51L260.54,328.89L258.85,328.71ZM257.67,367.21L259.18,369.13L257.57,369.66ZM263.47,365.32L264.99,367.25L263.37,367.77ZM272.21,382.74L274.1,384.31L272.62,385.16ZM265.9,386.38L267.79,387.95L266.32,388.8ZM271.19,383.33L273.08,384.9L271.6,385.75ZM277.95,403.43L280.12,404.57L278.86,405.7ZM282.49,399.34L284.66,400.48L283.39,401.62ZM311.21,428.26L313.66,428.42L312.97,429.97ZM313.69,422.68L316.14,422.84L315.45,424.4ZM323.45,432.75L321,432.85L321.53,431.23ZM326.2,424.28L323.75,424.38L324.28,422.77ZM332.49,427.85L334.92,427.49L334.56,429.15ZM330.98,434.97L333.4,434.61L333.05,436.28ZM332.24,429L334.67,428.64L334.32,430.31ZM343.88,436.81L341.5,437.42L341.68,435.73ZM344.81,427.96L342.43,428.57L342.61,426.88ZM351.7,434.95L354,434.1L354,435.8ZM351.7,425.33L354,424.48L354,426.18ZM351.7,437.42L354,436.57L354,438.27ZM351.7,431.32L354,430.47L354,432.17ZM364.71,436.54L362.51,437.63L362.33,435.94ZM363.78,427.69L361.58,428.78L361.4,427.09ZM372.48,435.51L374.55,434.2L374.91,435.86ZM371.21,429.54L373.29,428.23L373.64,429.89ZM385.02,431.95L383.1,433.47L382.57,431.85ZM382.27,423.48L380.35,425L379.82,423.38ZM391.41,427.06L393.16,425.35L393.85,426.9ZM387.49,418.27L389.25,416.56L389.94,418.11ZM403.94,423.23L402.37,425.11L401.52,423.64ZM399.49,415.52L397.92,417.4L397.07,415.93ZM410.62,419.12L411.98,417.08L412.98,418.45ZM407.03,414.18L408.39,412.14L409.39,413.52ZM420.63,410.77L419.49,412.94L418.35,411.67ZM414.67,404.15L413.53,406.32L412.39,405.06ZM426.31,405.36L427.22,403.08L428.48,404.22ZM421.77,401.27L422.68,399L423.95,400.13ZM354.3,337.6L352,338.45L352,336.75ZM353.87,336.63L352.96,338.91L351.7,337.77ZM353.14,336.31L353.74,338.68L352.05,338.51ZM352.35,336.47L354.24,338.04L352.76,338.89ZM351.81,337.07L354.26,337.23L353.57,338.78ZM339.84,281.93L341.91,280.62L342.26,282.28ZM375.21,370.38L376.57,368.34L377.57,369.72ZM327.55,379.08L329.97,379.5L329.12,380.97ZM361.99,332.67L359.95,331.31L361.33,330.31ZM319.91,415.11L317.47,414.95L318.16,413.4ZM360.46,344.63L361.13,342.27L362.5,343.27ZM422.64,398.55L421.73,400.83L420.47,399.69ZM349.21,289.08L347.01,290.17L346.83,288.48ZM331.64,276.08L333.57,274.56L334.09,276.18ZM351.7,265.29L354,264.44L354,266.14ZM439.68,357.35L439.32,354.93L440.98,355.28ZM294.49,270.67L293.35,272.84L292.21,271.58ZM336.73,291.73L338.65,290.21L339.18,291.83ZM366.8,384.27L368.72,382.75L369.25,384.37ZM416.41,322.79L417.72,324.87L416.06,325.22ZM298.39,385.02L300.57,386.16L299.3,387.3ZM334.16,345.09L332.64,343.16L334.26,342.64ZM298.39,290.18L299.3,287.9L300.57,289.04ZM288.55,292.38L289.22,290.02L290.59,291.02ZM359.21,329.44L356.79,329.03L357.64,327.56ZM347.16,346.03L344.88,345.12L346.02,343.86ZM333.85,314.39L332.71,316.56L331.57,315.29ZM375.07,390.38L376.83,388.66L377.52,390.22ZM344.95,366.6L342.49,366.7L343.02,365.08ZM351.7,253.34L354,252.49L354,254.19ZM350.07,317.54L347.99,318.85L347.64,317.19ZM299.56,300.38L300.23,298.02L301.6,299.02ZM331.64,399.12L334.09,399.02L333.57,400.64ZM346.04,376.58L343.62,376.93L343.97,375.27ZM363.62,281.39L366.05,281.03L365.69,282.7ZM336.13,348.84L334.24,347.27L335.72,346.42ZM307.43,413.93L309.85,414.34L309,415.82ZM386.52,372.88L385.38,375.05L384.24,373.79ZM275.73,322.51L275.38,320.08L277.04,320.43ZM381,326.56L379.28,324.8L380.84,324.11ZM333.02,341.01L331.93,338.81L333.62,338.63ZM304.35,338.9L303.5,336.6L305.2,336.6ZM338.84,323.1L337.93,325.38L336.67,324.24ZM440.61,367.43L440.51,364.98L442.13,365.51ZM362.68,334.21L363.99,336.29L362.32,336.64ZM313.51,340.44L314.59,342.64L312.9,342.82ZM299.36,279.97L300.5,277.8L301.64,279.06ZM369.87,326.36L371.76,327.93L370.28,328.78ZM281.85,390.9L279.81,389.54L281.19,388.54ZM363.58,425.87L361.39,426.95L361.21,425.26ZM323.32,332.62L322.97,330.19L324.63,330.55ZM326.06,351.02L324.35,349.26L325.9,348.57ZM342.16,354.73L339.8,354.07L340.8,352.69ZM369.16,312.21L366.74,311.8L367.59,310.32ZM410.01,332.91L408.93,330.72L410.62,330.54ZM299.56,374.82L301.6,376.18L300.23,377.18ZM339.09,310.91L337.53,312.8L336.68,311.32ZM328.69,306.35L330.05,304.31L331.05,305.68ZM400.86,328.76L399.55,326.68L401.21,326.33ZM403.18,365.07L402.77,367.49L401.29,366.64ZM334.21,419.75L336.64,419.4L336.28,421.06ZM362.5,376.04L360.43,377.35L360.07,375.69ZM289.51,393.02L291.68,394.16L290.42,395.3ZM354.91,327.53L357.36,327.43L356.83,329.04ZM305.14,328.76L304.79,326.33L306.45,326.68ZM322.4,403.13L324.85,403.29L324.16,404.84ZM369.31,408.06L367.23,409.37L366.88,407.7ZM415.92,290.28L417.96,291.64L416.58,292.64ZM272.46,362.4L273.98,364.33L272.36,364.85ZM445.17,345.98L445.77,348.36L444.08,348.18ZM318.33,292.1L319.69,290.06L320.69,291.43ZM393.48,405.12L391.92,407.01L391.07,405.54ZM367.91,300.92L370.36,301.08L369.66,302.63ZM386.62,316.69L388.51,318.25L387.04,319.1ZM387.92,356.26L387.51,358.68L386.04,357.83ZM342.38,393.81L339.95,394.17L340.31,392.5ZM369.27,291.73L366.82,291.83L367.35,290.21ZM378.56,263.14L376.11,263.23L376.64,261.62ZM292.99,312.31L293.15,309.86L294.71,310.55ZM281.62,304.4L281.46,306.84L279.9,306.15ZM298.21,321.16L298.11,318.71L299.73,319.24ZM274.28,338.9L273.43,336.6L275.13,336.6ZM385.56,384.63L386.93,382.59L387.92,383.97ZM351.7,280.41L354,279.56L354,281.26ZM289.05,325.34L288.69,322.91L290.36,323.26ZM308.47,290.09L309.61,287.92L310.75,289.18ZM308.03,356.2L309.74,357.96L308.19,358.65ZM424.38,304.4L426.1,306.15L424.54,306.84ZM304.52,268.66L303.16,270.7L302.16,269.33ZM376.2,294.82L378.62,295.23L377.77,296.7ZM384.59,300.58L386.87,301.48L385.73,302.75ZM338.09,300.92L336.34,302.63L335.64,301.08ZM441.41,310.24L439.89,308.32L441.51,307.79ZM309.45,279.87L310.81,277.83L311.81,279.2ZM386.68,281.87L384.26,281.45L385.11,279.98ZM409.74,344.87L409.14,342.49L410.83,342.67ZM425.44,368.43L425.28,370.88L423.73,370.19ZM391.04,348.59L391.14,351.04L389.52,350.52ZM272.33,374.94L270.61,373.19L272.17,372.49ZM363.62,393.81L365.69,392.5L366.05,394.17ZM401.48,406.54L402.84,404.5L403.84,405.87ZM400.86,346.44L401.21,348.87L399.55,348.52ZM302.42,405.01L304.78,405.67L303.78,407.05ZM296.26,330.33L296.86,332.71L295.17,332.53ZM272.21,292.46L272.62,290.04L274.1,290.89ZM305.68,348.99L304.37,346.91L306.04,346.56ZM304.12,307.88L303.71,310.3L302.23,309.45ZM289.73,372.63L291.62,374.2L290.14,375.05ZM439.68,317.85L440.98,319.92L439.32,320.27ZM383.6,403.13L381.84,404.84L381.15,403.29ZM322.72,312.08L323.63,309.81L324.89,310.94ZM276.27,355.24L274.96,353.16L276.63,352.81Z" fill="#7e7e7e" fill-opacity="0.8"/>
<circle cx="450.3" cy="337.6" r="2.4" fill="#000"/>
<circle cx="448.17" cy="317.37" r="2.4" fill="#000"/>
<circle cx="441.89" cy="298.02" r="2.4" fill="#000"/>
<circle cx="431.72" cy="280.41" r="2.4" fill="#000"/>
<circle cx="418.11" cy="265.29" r="2.4" fill="#000"/>
<circle cx="401.65" cy="253.34" r="2.4" fill="#000"/>
<circle cx="383.07" cy="245.06" r="2.4" fill="#000"/>
<circle cx="363.17" cy="240.83" r="2.4" fill="#000"/>
<circle cx="342.83" cy="240.83" r="2.4" fill="#000"/>
<circle cx="322.93" cy="245.06" r="2.4" fill="#000"/>
<circle cx="304.35" cy="253.34" r="2.4" fill="#000"/>
<circle cx="287.89" cy="265.29" r="2.4" fill="#000"/>
<circle cx="274.28" cy="280.41" r="2.4" fill="#000"/>
<circle cx="264.11" cy="298.02" r="2.4" fill="#000"/>
<circle cx="257.83" cy="317.37" r="2.4" fill="#000"/>
<circle cx="255.7" cy="337.6" r="2.4" fill="#000"/>
<circle cx="257.83" cy="357.83" r="2.4" fill="#000"/>
<circle cx="264.11" cy="377.18" r="2.4" fill="#000"/>
<circle cx="274.28" cy="394.79" r="2.4" fill="#000"/>
<circle cx="287.89" cy="409.91" r="2.4" fill="#000"/>
<circle cx="304.35" cy="421.86" r="2.4" fill="#000"/>
<circle cx="322.93" cy="430.14" r="2.4" fill="#000"/>
<circle cx="342.83" cy="434.37" r="2.4" fill="#000"/>
<circle cx="363.17" cy="434.37" r="2.4" fill="#000"/>
<circle cx="383.07" cy="430.14" r="2.4" fill="#000"/>
<circle cx="401.65" cy="421.86" r="2.4" fill="#000"/>
<circle cx="418.11" cy="409.91" r="2.4" fill="#000"/>
<circle cx="431.72" cy="394.79" r="2.4" fill="#000"/>
<circle cx="441.89" cy="377.18" r="2.4" fill="#000"/>
<circle cx="448.17" cy="357.83" r="2.4" fill="#000"/>
<path d="M678.36,361.87L611.18,436.49M671.87,381.84Q656.22,396.27 647.33,415.61M671.87,381.84Q662.98,401.18 647.33,415.61M498.92,400.01L549.12,245.51M481.94,361.87L512.97,266.39M611.18,245.51L569.66,241.15M590.64,241.15L512.97,415.61M680.55,341Q676.86,309.58 661.38,281.99M680.55,341Q665.06,313.41 661.38,281.99M569.66,440.85L479.75,341M481.94,361.87L529.95,427.95M512.97,266.39Q553.57,356.35 611.18,436.49M512.97,266.39Q570.58,346.53 611.18,436.49M630.35,427.95L678.36,320.13M549.12,436.49L630.35,254.05M590.64,440.85L512.97,266.39M661.38,400.01L512.97,266.39M549.12,245.51L549.12,436.49M498.92,400.01L671.87,300.16M630.35,254.05L569.66,440.85M630.35,427.95L481.94,320.13M630.35,427.95L630.35,254.05M549.12,436.49L647.33,415.61M498.92,400.01Q586.05,349.12 661.38,281.99M498.92,400.01Q574.25,332.88 661.38,281.99M488.43,300.16L678.36,320.13M498.92,400.01L569.66,241.15M529.95,254.05L661.38,281.99M549.12,245.51L488.43,381.84M611.18,436.49L481.94,320.13M569.66,241.15Q607.23,257.65 647.33,266.39M569.66,241.15Q609.75,249.89 647.33,266.39M630.35,427.95L661.38,281.99M647.33,415.61L479.75,341M488.43,381.84L647.33,266.39M630.35,254.05L481.94,320.13M678.36,320.13L529.95,427.95M680.55,341L630.35,254.05M549.12,436.49L680.55,341M630.35,427.95L590.64,440.85M488.43,381.84L481.94,320.13M512.97,266.39L680.55,341M498.92,281.99L479.75,341M671.87,300.16L569.66,241.15M611.18,245.51L611.18,436.49M549.12,245.51Q580.15,251.72 611.18,245.51M549.12,245.51Q580.15,239.31 611.18,245.51M488.43,381.84L481.94,361.87M569.66,440.85L488.43,381.84M590.64,241.15Q580.15,239.05 569.66,241.15M590.64,241.15Q580.15,243.25 569.66,241.15M630.35,254.05Q644.72,320.02 671.87,381.84M630.35,254.05Q657.5,315.87 671.87,381.84M611.18,436.49L529.95,254.05M488.43,300.16L647.33,415.61M512.97,415.61L569.66,440.85M671.87,300.16L569.66,440.85M671.87,381.84L529.95,427.95M549.12,245.51L611.18,436.49M512.97,415.61Q504.08,396.27 488.43,381.84M512.97,415.61Q497.32,401.18 488.43,381.84M549.12,245.51Q603.43,269.36 661.38,281.99M549.12,245.51Q607.07,258.14 661.38,281.99M647.33,266.39L529.95,254.05M590.64,440.85L647.33,415.61M590.64,241.15L671.87,381.84M479.75,341L630.35,427.95M569.66,440.85Q579.64,341 569.66,241.15M569.66,440.85Q559.67,341 569.66,241.15M498.92,281.99L680.55,341M647.33,266.39L590.64,440.85M611.18,245.51L630.35,427.95M630.35,254.05L529.95,427.95M488.43,300.16L671.87,300.16M569.66,241.15L479.75,341M488.43,381.84L590.64,440.85M671.87,381.84L671.87,300.16M678.36,320.13L661.38,400.01M498.92,281.99Q547.33,364.85 611.18,436.49M498.92,281.99Q562.77,353.62 611.18,436.49M481.94,320.13L512.97,415.61M549.12,436.49L529.95,254.05M630.35,427.95L549.12,245.51M678.36,361.87L529.95,254.05M549.12,436.49L479.75,341M671.87,381.84L569.66,241.15M647.33,266.39L481.94,361.87M680.55,341Q665.06,368.59 661.38,400.01M680.55,341Q676.86,372.42 661.38,400.01M630.35,427.95Q648.66,417.08 661.38,400.01M630.35,427.95Q643.07,410.88 661.38,400.01M611.18,436.49L498.92,400.01M647.33,266.39L512.97,415.61M671.87,300.16L630.35,254.05M498.92,281.99L512.97,415.61M549.12,245.51L671.87,300.16M569.66,440.85L529.95,427.95M678.36,320.13L661.38,281.99M549.12,436.49L647.33,266.39M549.12,245.51L479.75,341M678.36,320.13Q658.07,366.32 647.33,415.61M678.36,320.13Q667.62,369.42 647.33,415.61M680.55,341L647.33,266.39M630.35,254.05L661.38,400.01M488.43,300.16L529.95,254.05M590.64,241.15L488.43,381.84M488.43,300.16L549.12,436.49M529.95,427.95L590.64,241.15M678.36,361.87L590.64,440.85M671.87,381.84L549.12,436.49M529.95,427.95L647.33,266.39M678.36,320.13L479.75,341M590.64,440.85L611.18,245.51M488.43,381.84L630.35,254.05M529.95,254.05L590.64,440.85M647.33,415.61L630.35,254.05M488.43,300.16L512.97,266.39M529.95,254.05L678.36,320.13M481.94,320.13L647.33,415.61M647.33,415.61L512.97,266.39M680.55,341L488.43,381.84M529.95,427.95L488.43,300.16M630.35,254.05L678.36,361.87M611.18,245.51L549.12,436.49M671.87,300.16L481.94,320.13M498.92,281.99L529.95,427.95M678.36,320.13Q628.46,376.1 590.64,440.85M678.36,320.13Q640.54,384.87 590.64,440.85M498.92,281.99L512.97,266.39M590.64,440.85L549.12,436.49M549.12,436.49L661.38,400.01M630.35,254.05L647.33,266.39M671.87,300.16L611.18,436.49M481.94,361.87L481.94,320.13M661.38,281.99Q665.87,322.78 678.36,361.87M661.38,281.99Q673.86,321.08 678.36,361.87M529.95,427.95L630.35,427.95M512.97,415.61L680.55,341M512.97,415.61L611.18,245.51M611.18,245.51L661.38,400.01M549.12,245.51L569.66,241.15M488.43,300.16L479.75,341M630.35,427.95L488.43,381.84M590.64,440.85L680.55,341M549.12,436.49L498.92,400.01M611.18,436.49L647.33,266.39M661.38,281.99L569.66,440.85M569.66,241.15L661.38,281.99M678.36,361.87Q600.85,387.49 529.95,427.95M678.36,361.87Q607.46,402.33 529.95,427.95M488.43,381.84L498.92,400.01M680.55,341L671.87,381.84M549.12,436.49L671.87,300.16M671.87,381.84L647.33,266.39M678.36,361.87L680.55,341M647.33,266.39Q630.76,346.32 630.35,427.95M647.33,266.39Q646.92,348.02 630.35,427.95M529.95,427.95L498.92,400.01M488.43,381.84L671.87,381.84M481.94,320.13L529.95,254.05M630.35,254.05L611.18,245.51M647.33,415.61Q637.61,420.08 630.35,427.95M647.33,415.61Q640.07,423.48 630.35,427.95M549.12,436.49L661.38,281.99M488.43,300.16L611.18,436.49M488.43,381.84L529.95,427.95M678.36,361.87L671.87,381.84M647.33,415.61L671.87,300.16M512.97,415.61L661.38,281.99M569.66,440.85L630.35,427.95M481.94,361.87L488.43,300.16M569.66,440.85L590.64,241.15M630.35,427.95L590.64,241.15M661.38,281.99L611.18,436.49M661.38,400.01Q661.03,332.5 647.33,266.39M661.38,400.01Q647.67,333.9 647.33,266.39M512.97,266.39Q513.38,348.02 529.95,427.95M512.97,266.39Q529.54,346.32 529.95,427.95M678.36,320.13L481.94,320.13M569.66,440.85L611.18,436.49M678.36,361.87L479.75,341M661.38,281.99L498.92,281.99M529.95,427.95Q559.01,440.47 590.64,440.85M529.95,427.95Q561.59,428.33 590.64,440.85M498.92,400.01L671.87,381.84M671.87,300.16Q672.13,321.45 680.55,341M671.87,300.16Q680.29,319.71 680.55,341M647.33,266.39L661.38,281.99M549.12,436.49L611.18,436.49" stroke="#7e7e7e" stroke-opacity="0.85" stroke-width="0.6" fill="none"/>
<path d="M645.64,398.21L644.73,400.49L643.46,399.35ZM657.15,398.55L657.81,396.19L659.19,397.19ZM660.52,401L661.19,398.64L662.56,399.64ZM523.62,324L523.53,321.55L525.14,322.08ZM497.05,315.37L496.96,312.92L498.57,313.44ZM589.12,243.2L591.5,242.59L591.32,244.28ZM551.28,329.57L551.44,327.12L552.99,327.81ZM674.32,311.77L672.8,309.85L674.41,309.32ZM668.41,313.69L666.89,311.76L668.51,311.24ZM525.57,391.89L523.4,390.75L524.67,389.61ZM506.71,395.96L504.67,394.6L506.05,393.6ZM557.17,352.77L559.06,354.33L557.58,355.18ZM565.67,347.86L567.56,349.42L566.09,350.27ZM654.88,372.85L654.72,375.3L653.17,374.61ZM590.27,344.08L590.11,346.53L588.55,345.84ZM551.28,352.43L552.99,354.19L551.44,354.88ZM586.21,332.33L588.48,333.24L587.35,334.5ZM549.12,342.3L548.27,340L549.97,340ZM586.52,349.44L584.96,351.32L584.11,349.85ZM600.4,346.21L600.5,348.66L598.89,348.14ZM557.2,374.8L554.84,374.14L555.84,372.76ZM630.35,339.7L631.2,342L629.5,342ZM596.96,426.32L599.03,425.01L599.38,426.67ZM582.05,345.83L583.41,343.79L584.41,345.16ZM576.15,337.7L577.51,335.66L578.51,337.04ZM584.69,310.28L582.31,310.89L582.49,309.19ZM534.82,319.39L534.66,321.84L533.11,321.15ZM594.39,267.75L596.82,267.4L596.46,269.06ZM518.25,314.86L518.41,312.42L519.96,313.11ZM545.59,377.44L547.87,378.34L546.73,379.61ZM609.1,256.11L606.65,256.21L607.17,254.59ZM610.36,252.23L607.91,252.33L608.44,250.71ZM646.13,353.7L646.49,356.12L644.82,355.77ZM564.73,378.83L562.28,378.68L562.97,377.12ZM566.83,324.88L568.19,322.84L569.19,324.21ZM557.33,286.56L555.58,288.27L554.89,286.72ZM605.2,373.27L603.84,375.31L602.84,373.94ZM656.1,298.65L654.21,297.08L655.69,296.23ZM613.79,389.51L615.15,387.47L616.15,388.84ZM609.26,434.8L611.19,433.28L611.71,434.9ZM485.32,352.27L484.24,350.08L485.93,349.9ZM595.57,303.17L598.02,303.32L597.33,304.88ZM489.74,310.26L489.84,312.71L488.22,312.18ZM619.64,270.01L622.05,270.42L621.2,271.89ZM611.18,342.3L610.33,340L612.03,340ZM578.85,248.62L581.15,247.77L581.15,249.47ZM578.85,242.41L581.15,241.56L581.15,243.26ZM485.59,373.09L484.07,371.17L485.69,370.64ZM530.09,412.11L527.73,411.44L528.73,410.07ZM581.45,240.1L579.15,240.95L579.15,239.25ZM581.45,242.2L579.15,243.05L579.15,241.35ZM647.51,317.75L649.03,319.67L647.42,320.2ZM653.9,315.67L655.42,317.59L653.81,318.12ZM570.03,344.08L571.75,345.84L570.19,346.53ZM566.83,357.12L569.19,357.79L568.19,359.16ZM540.12,427.7L542.57,427.86L541.88,429.41ZM620,371.56L620.66,369.2L622.04,370.2ZM599.67,405.29L601.6,403.78L602.12,405.39ZM579.75,339.76L581.27,341.69L579.65,342.21ZM501.62,396.45L503.66,397.81L502.29,398.81ZM498.25,398.9L500.29,400.26L498.91,401.26ZM605.57,266.96L603.12,267.06L603.65,265.44ZM607.4,261.35L604.95,261.44L605.47,259.83ZM587.35,260.08L589.72,259.48L589.55,261.17ZM617.8,428.76L619.56,427.05L620.25,428.6ZM630.61,310.37L632.49,311.93L631.02,312.78ZM556.18,385.12L553.76,384.71L554.61,383.24ZM574.65,339.7L575.5,342L573.8,342ZM564.66,339.7L565.51,342L563.81,342ZM590.97,311.89L588.52,311.99L589.05,310.38ZM619.39,352.38L619.49,354.83L617.87,354.31ZM620.63,335.44L621.71,337.64L620.02,337.81ZM580.8,339.87L580.39,342.29L578.91,341.44ZM578.85,300.16L581.15,299.31L581.15,301.01ZM525.57,290.11L524.67,292.39L523.4,291.25ZM540.66,411.99L538.25,411.58L539.1,410.11ZM671.87,339.7L672.72,342L671.02,342ZM669.6,361.34L669.24,358.91L670.9,359.27ZM551.95,363.09L549.91,361.73L551.29,360.73ZM559.68,357.48L557.64,356.12L559.01,355.12ZM497.05,366.63L498.57,368.56L496.96,369.08ZM539.67,346.56L538.59,344.36L540.28,344.19ZM589.21,335.54L590.92,337.3L589.37,337.99ZM605.2,308.73L602.84,308.06L603.84,306.69ZM513.67,387.69L515.71,389.05L514.34,390.05ZM620,310.44L622.04,311.8L620.66,312.8ZM563.51,314.78L565.08,312.9L565.93,314.37ZM668.41,368.31L668.51,370.76L666.89,370.24ZM674.32,370.23L674.41,372.68L672.8,372.15ZM648.23,414.66L647.09,416.83L645.95,415.57ZM645.43,411.56L644.29,413.73L643.15,412.47ZM553.81,417.85L556.26,417.75L555.74,419.37ZM581.02,340.03L580.11,342.31L578.85,341.17ZM651.98,278.07L649.81,276.93L651.07,275.8ZM505.81,347.51L506.9,349.7L505.21,349.88ZM609.31,272.31L611.76,272.47L611.07,274.02ZM548.57,434L551.02,433.9L550.49,435.52ZM669.34,299.87L671.05,301.62L669.5,302.32ZM597.58,352.56L597.99,350.15L599.46,351ZM513.67,294.31L514.34,291.95L515.71,292.95ZM660.86,365.86L660.96,368.31L659.34,367.78ZM665.63,367.41L665.73,369.86L664.11,369.33ZM663.41,302.51L665.12,304.26L663.57,304.95ZM646.13,328.3L644.82,326.23L646.49,325.88ZM508.32,278.07L509.23,275.8L510.49,276.93ZM538.77,312.54L539.44,310.18L540.81,311.18ZM519.31,369.51L517.59,367.76L519.15,367.07ZM559.9,335.79L559.8,333.34L561.41,333.86ZM633.53,402.23L634.67,400.06L635.81,401.32ZM611.68,408.63L609.93,410.34L609.24,408.79ZM589.4,346.12L588.74,348.48L587.36,347.48ZM577.76,330.7L579.96,329.61L580.14,331.3ZM600.77,344.47L600.17,342.1L601.86,342.28ZM560.36,317.07L559.22,319.24L558.08,317.98ZM559.9,346.21L561.41,348.14L559.8,348.66ZM638.98,336.12L637.89,333.93L639.58,333.75ZM501.46,282.22L500.8,284.58L499.42,283.59ZM602.97,286.56L605.41,286.72L604.72,288.27ZM565.76,368.52L563.35,368.1L564.2,366.63ZM581.02,341.97L578.85,340.83L580.11,339.69ZM585.76,361.15L583.69,362.46L583.34,360.79ZM509.59,365.29L508.07,363.37L509.69,362.84ZM654.88,309.15L653.17,307.39L654.72,306.7ZM580.55,339.76L580.65,342.21L579.03,341.69ZM575.61,310.28L577.81,309.19L577.99,310.89ZM514.71,356.24L513.4,354.17L515.06,353.81ZM630.72,379.35L631.38,376.99L632.76,377.99ZM636.75,383.73L637.42,381.37L638.79,382.37ZM505.08,275.15L505.98,272.88L507.25,274.01ZM568.59,438.53L570.97,437.93L570.79,439.62ZM606.49,417.85L604.56,419.37L604.04,417.75ZM637.79,259.46L640.15,260.12L639.15,261.5ZM640.99,369.51L641.15,367.07L642.71,367.76ZM481.94,339.7L482.79,342L481.09,342ZM668.14,323.63L666.83,321.55L668.49,321.2ZM672.13,322.78L670.82,320.7L672.49,320.35ZM578.85,427.95L581.15,427.1L581.15,428.8ZM595.57,378.83L597.33,377.12L598.02,378.68ZM561.42,331.69L561.84,329.27L563.31,330.12ZM635.87,321.53L637.39,323.45L635.78,323.98ZM558.12,243.6L560.19,242.29L560.54,243.96ZM483.82,321.85L483.47,319.43L485.13,319.78ZM558.15,404.49L560.6,404.39L560.08,406.01ZM634.73,391.89L635.63,389.61L636.9,390.75ZM525.08,419.01L522.72,418.35L523.72,416.97ZM629.52,350.17L629.88,352.59L628.21,352.24ZM616.17,360.29L615.75,362.71L614.28,361.86ZM614.33,261.04L616.77,261.2L616.08,262.75ZM603.69,390.67L601.93,392.38L601.24,390.83ZM606.99,398.09L605.24,399.81L604.55,398.25ZM493.03,389.8L494.91,391.37L493.44,392.22ZM675.94,362.69L675.59,360.26L677.25,360.62ZM609.63,369.29L610.53,367.01L611.8,368.15ZM659.33,322.84L660.64,324.91L658.98,325.27ZM679.32,352.73L678.71,350.35L680.4,350.53ZM634.94,345.45L635.54,347.83L633.85,347.65ZM643.02,346.3L643.62,348.68L641.93,348.5ZM513.47,413.11L515.75,414.02L514.61,415.28ZM578.85,381.84L581.15,380.99L581.15,382.69ZM506.71,286.04L506.05,288.4L504.67,287.4ZM621.95,250.31L619.5,250.15L620.19,248.6ZM639.28,420.17L637.91,422.21L636.91,420.83ZM640.51,421.87L639.15,423.9L638.15,422.53ZM606.01,358.18L605.35,360.54L603.97,359.55ZM548.93,367.36L551.1,368.5L549.84,369.64ZM508.32,403.93L510.49,405.07L509.23,406.2ZM675.51,370.62L675.61,373.07L674,372.54ZM659.87,356.62L660.22,359.04L658.56,358.69ZM588.14,347.93L587,350.1L585.86,348.84ZM598.73,434.67L600.8,433.36L601.16,435.02ZM485.05,332.31L484.45,329.94L486.14,330.11ZM580.01,342.29L579.41,339.92L581.1,340.09ZM610.23,333.28L611.54,335.35L609.87,335.7ZM636.68,358L636.77,360.45L635.16,359.92ZM657.83,334.14L656.74,331.94L658.43,331.77ZM651.15,334.84L650.06,332.65L651.75,332.47ZM517.28,346.3L518.37,348.5L516.68,348.68ZM525.36,345.45L526.45,347.65L524.76,347.83ZM581.45,320.13L579.15,320.98L579.15,319.28ZM591.71,438.53L589.51,439.62L589.33,437.93ZM577.76,351.3L580.14,350.7L579.96,352.39ZM581.45,281.99L579.15,282.84L579.15,281.14ZM558.38,437.16L560.81,436.81L560.45,438.47ZM559.67,431.09L562.1,430.74L561.74,432.4ZM586.69,390.79L584.49,391.87L584.31,390.18ZM674.44,322.29L673.13,320.21L674.79,319.86ZM678.52,321.42L677.21,319.35L678.88,318.99ZM653.48,273.22L655.65,274.36L654.39,275.5ZM578.85,436.49L581.15,435.64L581.15,437.34Z" fill="#7e7e7e" fill-opacity="0.8"/>
<ellipse cx="580.0" cy="340.6" rx="10.2" ry="11.2" stroke="#707070" stroke-opacity="0.85" stroke-width="0.7" fill="none"/>
<circle cx="680.55" cy="341" r="2.4" fill="#000"/>
<circle cx="678.36" cy="320.13" r="2.4" fill="#000"/>
<circle cx="671.87" cy="300.16" r="2.4" fill="#000"/>
<circle cx="661.38" cy="281.99" r="2.4" fill="#000"/>
<circle cx="647.33" cy="266.39" r="2.4" fill="#000"/>
<circle cx="630.35" cy="254.05" r="2.4" fill="#000"/>
<circle cx="611.18" cy="245.51" r="2.4" fill="#000"/>
<circle cx="590.64" cy="241.15" r="2.4" fill="#000"/>
<circle cx="569.66" cy="241.15" r="2.4" fill="#000"/>
<circle cx="549.12" cy="245.51" r="2.4" fill="#000"/>
<circle cx="529.95" cy="254.05" r="2.4" fill="#000"/>
<circle cx="512.97" cy="266.39" r="2.4" fill="#000"/>
<circle cx="498.92" cy="281.99" r="2.4" fill="#000"/>
<circle cx="488.43" cy="300.16" r="2.4" fill="#000"/>
<circle cx="481.94" cy="320.13" r="2.4" fill="#000"/>
<circle cx="479.75" cy="341" r="2.4" fill="#000"/>
<circle cx="481.94" cy="361.87" r="2.4" fill="#000"/>
<circle cx="488.43" cy="381.84" r="2.4" fill="#000"/>
<circle cx="498.92" cy="400.01" r="2.4" fill="#000"/>
<circle cx="512.97" cy="415.61" r="2.4" fill="#000"/>
<circle cx="529.95" cy="427.95" r="2.4" fill="#000"/>
<circle cx="549.12" cy="436.49" r="2.4" fill="#000"/>
<circle cx="569.66" cy="440.85" r="2.4" fill="#000"/>
<circle cx="590.64" cy="440.85" r="2.4" fill="#000"/>
<circle cx="611.18" cy="436.49" r="2.4" fill="#000"/>
<circle cx="630.35" cy="427.95" r="2.4" fill="#000"/>
<circle cx="647.33" cy="415.61" r="2.4" fill="#000"/>
<circle cx="661.38" cy="400.01" r="2.4" fill="#000"/>
<circle cx="671.87" cy="381.84" r="2.4" fill="#000"/>
<circle cx="678.36" cy="361.87" r="2.4" fill="#000"/>
</svg>
</body></html>
